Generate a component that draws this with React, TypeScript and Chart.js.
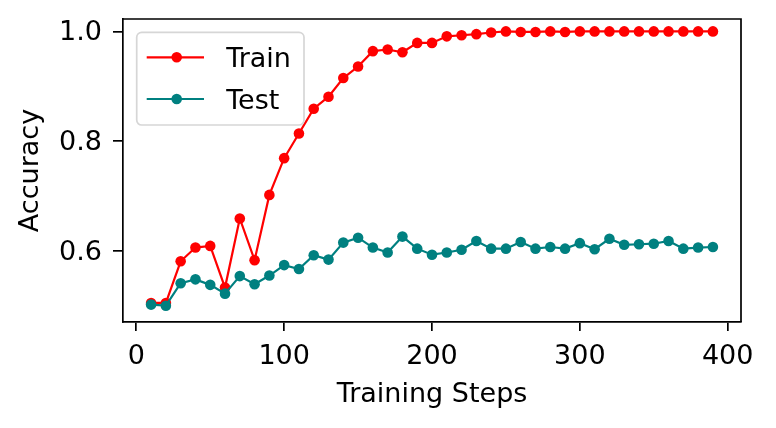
import React, { useEffect, useRef } from "react";
import { Chart, registerables } from "chart.js";

Chart.register(...registerables);

const steps = [10, 20, 30, 40, 50, 60, 70, 80, 90, 100, 110, 120, 130, 140, 150, 160, 170, 180, 190, 200, 210, 220, 230, 240, 250, 260, 270, 280, 290, 300, 310, 320, 330, 340, 350, 360, 370, 380, 390];
const trainAcc = [0.505, 0.505, 0.581, 0.606, 0.609, 0.533, 0.659, 0.583, 0.702, 0.769, 0.814, 0.859, 0.881, 0.915, 0.936, 0.964, 0.967, 0.962, 0.979, 0.979, 0.991, 0.993, 0.995, 0.998, 1.0, 0.999, 0.999, 1.0, 0.999, 1.0, 1.0, 1.0, 1.0, 1.0, 1.0, 1.0, 1.0, 1.0, 1.0];
const testAcc = [0.502, 0.500, 0.541, 0.548, 0.538, 0.522, 0.554, 0.539, 0.555, 0.574, 0.567, 0.592, 0.584, 0.615, 0.624, 0.606, 0.597, 0.626, 0.604, 0.593, 0.597, 0.602, 0.618, 0.604, 0.604, 0.616, 0.604, 0.607, 0.604, 0.614, 0.603, 0.622, 0.611, 0.612, 0.613, 0.618, 0.604, 0.606, 0.607];
const seriesNames = ["Train", "Test"];
const seriesColors = ["#ff0000", "#008080"];
const xTicks = [0, 100, 200, 300, 400];
const yTicks = [0.6, 0.8, 1.0];
const xTitle = "Training Steps";
const yTitle = "Accuracy";

const FONT = "DejaVu Sans";
const FS = 27;

const framePlugin = {
  id: "frameAndLegend",
  afterDraw(chart: any) {
    const { ctx, chartArea: ca } = chart;
    ctx.save();
    ctx.strokeStyle = "#000";
    ctx.lineWidth = 1.7;
    ctx.beginPath();
    ctx.moveTo(ca.left, ca.top);
    ctx.lineTo(ca.right, ca.top);
    ctx.lineTo(ca.right, ca.bottom);
    ctx.stroke();

    const x0 = ca.left + 13.7;
    const y0 = ca.top + 13.3;
    const w = 167.3;
    const h = 92.7;
    ctx.beginPath();
    (ctx as any).roundRect(x0, y0, w, h, 5);
    ctx.fillStyle = "rgba(255,255,255,0.8)";
    ctx.fill();
    ctx.strokeStyle = "#d6d6d6";
    ctx.lineWidth = 1.7;
    ctx.stroke();

    const rows = [y0 + 25, y0 + 66.7];
    seriesNames.forEach((name, i) => {
      const y = rows[i];
      ctx.strokeStyle = seriesColors[i];
      ctx.lineWidth = 2.2;
      ctx.beginPath();
      ctx.moveTo(x0 + 10, y);
      ctx.lineTo(x0 + 67.3, y);
      ctx.stroke();
      ctx.fillStyle = seriesColors[i];
      ctx.beginPath();
      ctx.arc(x0 + 40, y, 5.3, 0, Math.PI * 2);
      ctx.fill();
      ctx.fillStyle = "#000";
      ctx.font = `${FS}px "${FONT}"`;
      ctx.textAlign = "left";
      ctx.textBaseline = "alphabetic";
      ctx.fillText(name, x0 + 89.5, y + 9.8);
    });
    ctx.restore();
  },
};

export default function App() {
  const ref = useRef<HTMLCanvasElement | null>(null);
  useEffect(() => {
    if (!ref.current) return;
    const datasets = [trainAcc, testAcc].map((vals, i) => ({
      label: seriesNames[i],
      data: steps.map((s, j) => ({ x: s, y: vals[j] })),
      borderColor: seriesColors[i],
      backgroundColor: seriesColors[i],
      pointBackgroundColor: seriesColors[i],
      pointBorderWidth: 0,
      pointRadius: 5.3,
      borderWidth: 2.2,
      tension: 0,
      order: i === 0 ? 1 : 0,
    }));
    const chart = new Chart(ref.current, {
      type: "line",
      data: { datasets },
      options: {
        animation: false,
        responsive: false,
        devicePixelRatio: 1,
        layout: { padding: { left: 0, right: 35, top: 19, bottom: 0 } },
        plugins: { legend: { display: false }, tooltip: { enabled: false } },
        scales: {
          x: {
            type: "linear",
            min: -9,
            max: 409,
            afterBuildTicks: (s: any) => {
              s.ticks = xTicks.map((v) => ({ value: v }));
            },
            afterFit: (s: any) => {
              s.height = 106;
              s.paddingLeft = 0;
              s.paddingRight = 0;
              s.paddingTop = 0;
              s.paddingBottom = 0;
            },
            grid: { drawOnChartArea: false, drawTicks: true, tickLength: 9, color: "#000", lineWidth: 1.7 },
            border: { display: true, color: "#000", width: 1.7 },
            ticks: {
              color: "#000",
              padding: 9.5,
              maxRotation: 0,
              autoSkip: false,
              font: { family: FONT, size: FS },
              callback: (v: any) => String(v),
            },
            title: {
              display: true,
              text: xTitle,
              color: "#000",
              font: { family: FONT, size: FS },
              padding: { top: 0, bottom: 17 },
            },
          },
          y: {
            type: "linear",
            min: 0.4703,
            max: 1.0226,
            afterBuildTicks: (s: any) => {
              s.ticks = yTicks.map((v) => ({ value: v }));
            },
            afterFit: (s: any) => {
              s.width = 123;
              s.paddingLeft = 0;
              s.paddingRight = 0;
              s.paddingTop = 0;
              s.paddingBottom = 0;
            },
            grid: { drawOnChartArea: false, drawTicks: true, tickLength: 10, color: "#000", lineWidth: 1.7 },
            border: { display: true, color: "#000", width: 1.7 },
            ticks: {
              color: "#000",
              padding: 11,
              labelOffset: 2,
              autoSkip: false,
              font: { family: FONT, size: FS },
              callback: (v: any) => Number(v).toFixed(1),
            },
            title: {
              display: true,
              text: yTitle,
              color: "#000",
              font: { family: FONT, size: FS },
              padding: { top: 15, bottom: 0 },
            },
          },
        },
      },
      plugins: [framePlugin],
    });
    return () => chart.destroy();
  }, []);
  return (
    <div style={{ position: "absolute", left: 0, top: 0, width: 776, height: 428, background: "#fff" }}>
      <canvas ref={ref} width={776} height={428} style={{ display: "block" }} />
    </div>
  );
}
